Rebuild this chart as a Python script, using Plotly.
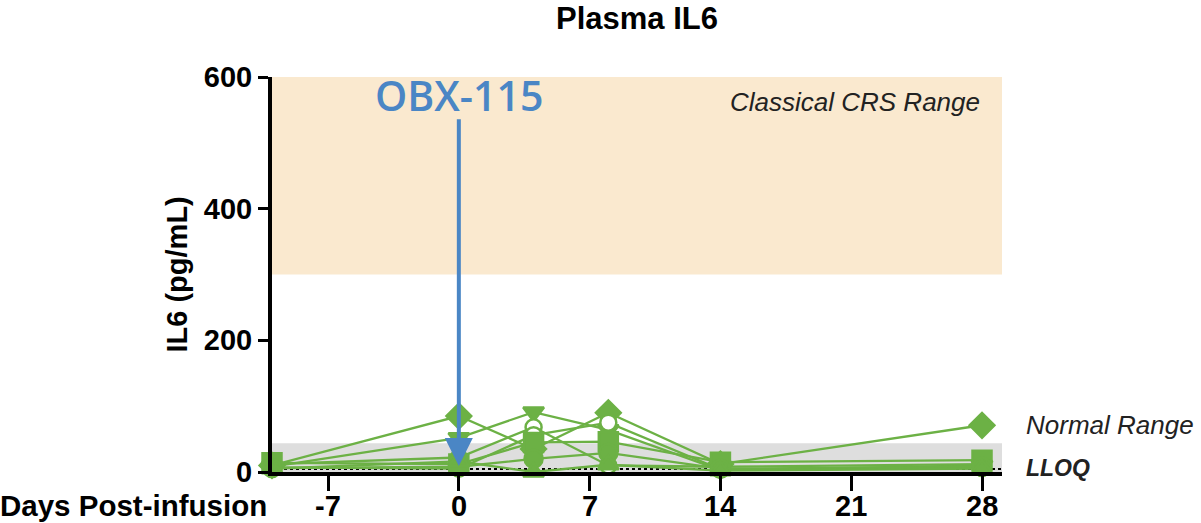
import plotly.graph_objects as go

days = [-10, 0, 4, 8, 14, 28]
pt_diamond = [10, 85, 35, 90, 12, 71]
pt_tridown = [8, 52, 91, 64, 3, 10]
pt_opencirc = [12, 22, 68, 10, 8, 12]
pt_opencirc2 = [7, 5, 56, 75, 4, 6]
pt_square = [14, 12, 45, 46, 15, 18]
pt_circle = [6, 8, 20, 29, 5, 8]
pt_triup = [5, 16, 0, 11, 2, 5]

x_ticks = [-7, 0, 7, 14, 21, 28]
y_ticks = [0, 200, 400, 600]
crs_range = [300, 600]
normal_range = [0, 43.5]
lloq = 4.5
dose_day = 0

GREEN = "#6CB145"
BLUE = "#4A86C5"
FONT = "Liberation Sans, Arial, sans-serif"

series = [
    ("Diamond", pt_diamond, "diamond", GREEN, 19),
    ("Triangle down", pt_tridown, "triangle-down", GREEN, 18),
    ("Open circle", pt_opencirc, "circle", "white", 16),
    ("Open circle 2", pt_opencirc2, "circle", "white", 16),
    ("Square", pt_square, "square", GREEN, 19),
    ("Circle", pt_circle, "circle", GREEN, 18),
    ("Triangle up", pt_triup, "triangle-up", GREEN, 18),
]

fig = go.Figure()
for name, vals, sym, fill, size in series:
    fig.add_trace(go.Scatter(
        x=days, y=vals, name=name, mode="lines+markers",
        line=dict(color=GREEN, width=2.3),
        marker=dict(symbol=sym, size=size, color=fill,
                    line=dict(color=GREEN, width=2.5)),
        cliponaxis=False, showlegend=False,
    ))

fig.add_shape(type="rect", xref="paper", yref="y", x0=0, x1=1,
              y0=crs_range[0], y1=crs_range[1], fillcolor="#FAE9CF",
              line=dict(width=0), layer="below")
fig.add_shape(type="rect", xref="paper", yref="y", x0=0, x1=1,
              y0=normal_range[0], y1=normal_range[1], fillcolor="#DEDEDE",
              line=dict(width=0), layer="below")
fig.add_shape(type="line", xref="paper", yref="y", x0=0, x1=1,
              y0=lloq, y1=lloq, line=dict(color="black", width=2, dash="dot"),
              layer="below")

XR = [-10, 29.07]
fig.update_layout(
    width=1201, height=523,
    margin=dict(l=272, r=199, t=77, b=51),
    paper_bgcolor="white", plot_bgcolor="white",
    font=dict(family=FONT, color="black"),
    xaxis=dict(range=XR, tickvals=x_ticks, showticklabels=False,
               showgrid=False, zeroline=False, showline=True, linecolor="black",
               linewidth=4, ticks="outside", ticklen=15, tickwidth=3,
               tickcolor="black", automargin=False),
    yaxis=dict(range=[0, 600], tickvals=y_ticks,
               ticktext=["<b>%d</b>" % t for t in y_ticks],
               showgrid=False, zeroline=False, showline=True, linecolor="black",
               linewidth=4, ticks="outside", ticklen=10, tickwidth=3,
               tickcolor="black", automargin=False,
               tickfont=dict(family=FONT, size=29, color="black")),
)

ann = []
for t in x_ticks:
    ann.append(dict(text="<b>%d</b>" % t, xref="x", yref="paper", x=t, y=0,
                    yshift=-34, xanchor="center", yanchor="middle", showarrow=False,
                    font=dict(size=29, family=FONT, color="black")))
ann.append(dict(text="<b>Plasma IL6</b>", xref="paper", yref="paper", x=0.5, y=1,
                yshift=59, xanchor="center", yanchor="middle", showarrow=False,
                font=dict(size=31, family=FONT, color="black")))
ann.append(dict(text="<b>IL6 (pg/mL)</b>", xref="paper", yref="paper", x=-0.1315, y=0.5,
                textangle=-90, xanchor="center", yanchor="middle", showarrow=False,
                font=dict(size=29, family=FONT, color="black")))
ann.append(dict(text="<b>Days Post-infusion</b>", xref="paper", yref="paper", x=-0.004, y=0,
                yshift=-33, xanchor="right", yanchor="middle", showarrow=False,
                font=dict(size=29.5, family=FONT, color="black")))
ann.append(dict(text="<i>Classical CRS Range</i>", xref="paper", yref="y", x=0.973, y=562,
                xanchor="right", yanchor="middle", showarrow=False,
                font=dict(size=26, family=FONT, color="#222222")))
ann.append(dict(text="<i>Normal Range</i>", xref="paper", yref="y", x=1.03, y=72,
                xanchor="left", yanchor="middle", showarrow=False,
                font=dict(size=26, family=FONT, color="#222222")))
ann.append(dict(text="<b><i>LLOQ</i></b>", xref="paper", yref="y", x=1.03, y=6,
                xanchor="left", yanchor="middle", showarrow=False,
                font=dict(size=23, family=FONT, color="#222222")))
ann.append(dict(text="OBX-115", xref="x", yref="y", x=dose_day, y=572,
                xanchor="center", yanchor="middle", showarrow=False,
                font=dict(size=41, family="Open Sans, Lato, sans-serif", color=BLUE,
                          weight=600)))
ann.append(dict(text="", xref="x", yref="y", x=dose_day, y=9,
                axref="x", ayref="y", ax=dose_day, ay=538, showarrow=True,
                arrowhead=2, arrowsize=1.4, arrowwidth=4, arrowcolor=BLUE))
fig.update_layout(annotations=ann)

fig.write_html("out.html")
